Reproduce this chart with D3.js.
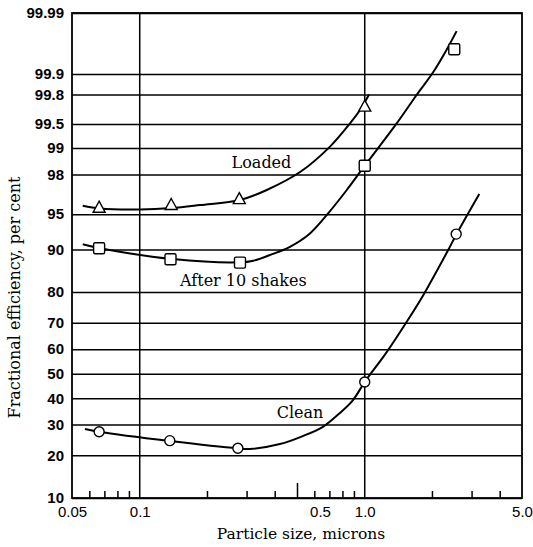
<!DOCTYPE html>
<html><head><meta charset="utf-8">
<script src="https://cdn.jsdelivr.net/npm/d3@7"></script>
<style>body{margin:0;background:#fff}svg{display:block}</style>
</head><body>
<script>
// ---- data ----
const xMajorTicks = [0.05, 0.1, 0.5, 1, 5];
const xTickLabels = ["0.05", "0.1", "0.5", "1.0", "5.0"];
const xMinorTicks = [0.06, 0.07, 0.08, 0.09, 0.2, 0.3, 0.4, 0.6, 0.7, 0.8, 0.9, 2, 3, 4];
const xVerticalGrid = [0.1, 1];
const yTicks = [10, 20, 30, 40, 50, 60, 70, 80, 90, 95, 98, 99, 99.5, 99.8, 99.9, 99.99];
const yTickLabels = ["10","20","30","40","50","60","70","80","90","95","98","99","99.5","99.8","99.9","99.99"];

const sizeLoaded = [0.066, 0.138, 0.277, 1.0];
const loaded = [95.7, 95.95, 96.45, 99.71];
const sizeShaken = [0.066, 0.137, 0.279, 1.0, 2.5];
const shaken = [90.2, 88.1, 87.4, 98.4, 99.959];
const sizeClean = [0.066, 0.136, 0.273, 1.0, 2.55];
const clean = [27.5, 24.5, 22.1, 46.6, 92.5];

const loadedCurveX = [0.0558, 0.0666, 0.1003, 0.1387, 0.1853, 0.279, 0.367, 0.516, 0.701, 0.86, 0.953, 1.045];
const loadedCurveY = [95.83, 95.57, 95.48, 95.62, 95.90, 96.33, 97.09, 98.12, 99.04, 99.507, 99.672, 99.80];
const shakenCurveX = [0.0558, 0.0666, 0.1396, 0.279, 0.32, 0.379, 0.465, 0.571, 0.701, 0.832, 1.0, 1.387, 1.70, 2.02, 2.35, 2.56];
const shakenCurveY = [90.89, 90.20, 88.14, 87.45, 87.80, 88.95, 90.47, 92.6, 95.32, 97.09, 98.40, 99.507, 99.797, 99.9074, 99.9625, 99.9794];
const cleanCurveX = [0.0571, 0.0657, 0.136, 0.272, 0.309, 0.42, 0.53, 0.652, 0.776, 0.887, 1.0, 1.243, 1.537, 1.82, 2.35, 2.56, 3.23];
const cleanCurveY = [28.4, 27.5, 24.4, 22.1, 21.9, 23.4, 26.0, 29.2, 34.3, 39.3, 46.6, 58.4, 70.4, 79.1, 89.9, 92.5, 96.8];

const seriesLabels = ["Loaded", "After 10 shakes", "Clean"];
const labelX = [0.256, 0.151, 0.406];
const labelY = [98.31, 81.8, 32.3];

// ---- layout ----
const W = 533, H = 547;
const L = 72, R = 522, T = 13, B = 498;

function probit(p){
  const a=[-3.969683028665376e+01,2.209460984245205e+02,-2.759285104469687e+02,1.383577518672690e+02,-3.066479806614716e+01,2.506628277459239e+00];
  const b=[-5.447609879822406e+01,1.615858368580409e+02,-1.556989798598866e+02,6.680131188771972e+01,-1.328068155288572e+01];
  const c=[-7.784894002430293e-03,-3.223964580411365e-01,-2.400758277161838e+00,-2.549732539343734e+00,4.374664141464968e+00,2.938163982698783e+00];
  const d=[7.784695709041462e-03,3.224671290700398e-01,2.445134137142996e+00,3.754408661907416e+00];
  const plow=0.02425, phigh=1-plow;
  if(p<plow){const q=Math.sqrt(-2*Math.log(p));return (((((c[0]*q+c[1])*q+c[2])*q+c[3])*q+c[4])*q+c[5])/((((d[0]*q+d[1])*q+d[2])*q+d[3])*q+1);}
  if(p<=phigh){const q=p-0.5,r=q*q;return (((((a[0]*r+a[1])*r+a[2])*r+a[3])*r+a[4])*r+a[5])*q/(((((b[0]*r+b[1])*r+b[2])*r+b[3])*r+b[4])*r+1);}
  const q=Math.sqrt(-2*Math.log(1-p));return -(((((c[0]*q+c[1])*q+c[2])*q+c[3])*q+c[4])*q+c[5])/((((d[0]*q+d[1])*q+d[2])*q+d[3])*q+1);
}

const x = d3.scaleLog().domain([0.05, 5]).range([L, R]);
const zLin = d3.scaleLinear().domain([probit(0.10), probit(0.9999)]).range([B, T]);
function y(p){ return zLin(probit(p / 100)); }
y.domain = () => [10, 99.99];
y.range = () => zLin.range();
y.copy = () => y;

const svg = d3.select("body").append("svg").attr("width", W).attr("height", H)
  .style("font-family", "'Liberation Sans', Arial, sans-serif");

// horizontal grid + y labels
const gy = svg.append("g").attr("transform", `translate(${L},0)`)
  .call(d3.axisLeft(y).tickValues(yTicks)
    .tickFormat((d, i) => yTickLabels[i]).tickSize(-(R - L)).tickPadding(8));
gy.select(".domain").remove();
gy.selectAll(".tick line").attr("stroke", "#000").attr("stroke-width", 1.5);
gy.selectAll(".tick text").attr("fill", "#000").attr("font-size", 15).attr("font-weight", "bold")
  .attr("font-family", "'Liberation Sans', Arial, sans-serif");

// vertical grid
svg.append("g").selectAll("line").data(xVerticalGrid).join("line")
  .attr("x1", d => x(d)).attr("x2", d => x(d)).attr("y1", T).attr("y2", B)
  .attr("stroke", "#000").attr("stroke-width", 1.5);

// minor ticks (inward from bottom)
svg.append("g").selectAll("line").data(xMinorTicks).join("line")
  .attr("x1", d => x(d)).attr("x2", d => x(d)).attr("y1", B).attr("y2", B - 7)
  .attr("stroke", "#000").attr("stroke-width", 1.5);

// major ticks with labels
const gx = svg.append("g").attr("transform", `translate(0,${B})`)
  .call(d3.axisBottom(x).tickValues(xMajorTicks)
    .tickFormat((d, i) => xTickLabels[i]).tickSizeInner(-15).tickSizeOuter(0).tickPadding(0));
gx.select(".domain").remove();
gx.selectAll(".tick line").attr("stroke", "#000").attr("stroke-width", 1.5)
  .attr("display", d => (d === 0.5 ? null : "none"));
gx.selectAll(".tick text").attr("fill", "#000").attr("font-size", 15)
  .attr("font-family", "'Liberation Sans', Arial, sans-serif")
  .attr("y", 19).attr("dy", 0)
  .attr("dx", d => (d === 0.5 ? 23 : 0));

// frame
svg.append("rect").attr("x", L).attr("y", T).attr("width", R - L).attr("height", B - T)
  .attr("fill", "none").attr("stroke", "#000").attr("stroke-width", 1.8);

// curves
const line = d3.line().x(d => x(d[0])).y(d => y(d[1])).curve(d3.curveCatmullRom.alpha(0.5));
const curves = [
  d3.zip(loadedCurveX, loadedCurveY),
  d3.zip(shakenCurveX, shakenCurveY),
  d3.zip(cleanCurveX, cleanCurveY)
];
svg.append("g").selectAll("path").data(curves).join("path")
  .attr("d", line).attr("fill", "none").attr("stroke", "#000").attr("stroke-width", 2);

// markers
const mk = svg.append("g").attr("fill", "#fff").attr("stroke", "#000").attr("stroke-width", 1.4);
mk.selectAll("path.tri").data(d3.zip(sizeLoaded, loaded)).join("path").attr("class", "tri")
  .attr("d", d => { const cx = x(d[0]), cy = y(d[1]); return `M${cx},${cy-6}L${cx+6},${cy+5}L${cx-6},${cy+5}Z`; });
mk.selectAll("rect").data(d3.zip(sizeShaken, shaken)).join("rect")
  .attr("x", d => x(d[0]) - 5.5).attr("y", d => y(d[1]) - 5.5)
  .attr("width", 11).attr("height", 11).attr("rx", 1.5);
mk.selectAll("circle").data(d3.zip(sizeClean, clean)).join("circle")
  .attr("cx", d => x(d[0])).attr("cy", d => y(d[1])).attr("r", 5);

// series labels
svg.append("g").selectAll("text").data(seriesLabels).join("text")
  .attr("x", (d, i) => x(labelX[i])).attr("y", (d, i) => y(labelY[i]))
  .attr("font-family", "'DejaVu Serif', serif").attr("font-size", 16).attr("fill", "#000")
  .text(d => d);

// axis titles
svg.append("text").attr("x", 301).attr("y", 539).attr("text-anchor", "middle")
  .attr("font-family", "'DejaVu Serif', serif").attr("font-size", 15.5).attr("fill", "#000")
  .text("Particle size, microns");
svg.append("text").attr("transform", "translate(20,297.5) rotate(-90)").attr("text-anchor", "middle")
  .attr("font-family", "'DejaVu Serif', serif").attr("font-size", 16).attr("fill", "#000")
  .text("Fractional efficiency, per cent");
</script>
</body></html>
